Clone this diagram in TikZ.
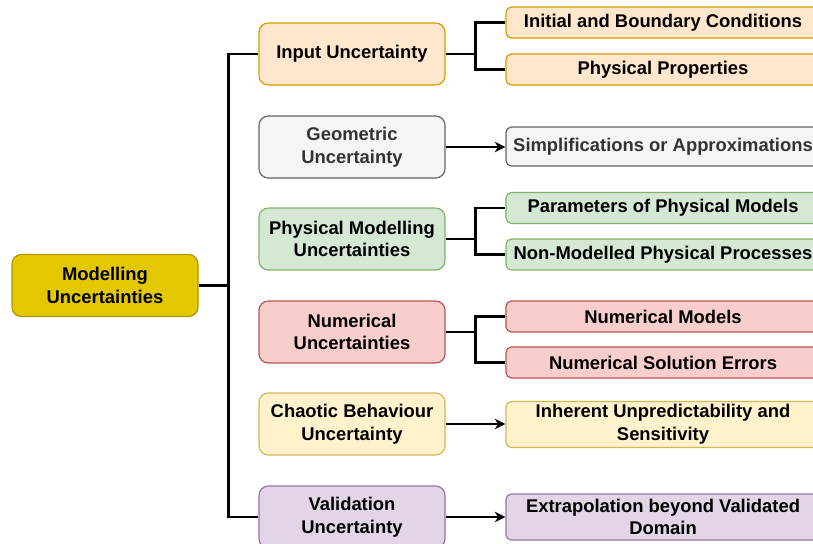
\documentclass[tikz,border=0pt]{standalone}
\usepackage{fontspec}
\setmainfont{Liberation Sans}
\usepackage{xcolor}
\usetikzlibrary{positioning,calc,arrows.meta}

\definecolor{rootfill}{HTML}{E3C800}\definecolor{rootline}{HTML}{B09500}
\definecolor{orfill}{HTML}{FFE6CC}\definecolor{orline}{HTML}{D79B00}
\definecolor{gyfill}{HTML}{F5F5F5}\definecolor{gyline}{HTML}{666666}\definecolor{gytext}{HTML}{333333}
\definecolor{grfill}{HTML}{D5E8D4}\definecolor{grline}{HTML}{82B366}
\definecolor{rdfill}{HTML}{F8CECC}\definecolor{rdline}{HTML}{B85450}
\definecolor{ylfill}{HTML}{FFF2CC}\definecolor{ylline}{HTML}{D6B656}
\definecolor{pufill}{HTML}{E1D5E7}\definecolor{puline}{HTML}{9673A6}

\begin{document}
\begin{tikzpicture}[x=0.75pt,y=-0.75pt]
	\tikzset{
		box/.style={
				draw, line width=0.9pt, rounded corners=7pt, align=center,
				font=\fontsize{13.8}{17}\selectfont\bfseries,
				minimum width=139.5pt, minimum height=46.5pt, inner sep=2pt,
			},
		leaf/.style={box, rounded corners=4pt, minimum width=235.5pt, minimum height=23.25pt},
		tree/.style={line width=1.6pt, black},
		arr/.style={line width=0.8pt, -{Stealth[length=8pt,width=8pt,inset=2.5pt]}},
	}
	\useasboundingbox (0,0) rectangle (813,543);
	%
	\node[box, fill=rootfill, draw=rootline] (root) at (105,285.5) {Modelling\\Uncertainties};
	%
	\node[box, fill=orfill, draw=orline] (in) at (352,54) {Input Uncertainty};
	\node[box, fill=gyfill, draw=gyline, text=gytext] (geo) at (352,147) {Geometric\\Uncertainty};
	\node[box, fill=grfill, draw=grline] (phy) at (352,239) {Physical Modelling\\Uncertainties};
	\node[box, fill=rdfill, draw=rdline] (num) at (352,332) {Numerical\\Uncertainties};
	\node[box, fill=ylfill, draw=ylline] (cha) at (352,424) {Chaotic Behaviour\\Uncertainty};
	\node[box, fill=pufill, draw=puline] (val) at (352,517) {Validation\\Uncertainty};
	%
	\node[leaf, fill=orfill, draw=orline] (ibc) at (663,22.5) {Initial and Boundary Conditions};
	\node[leaf, fill=orfill, draw=orline] (pp) at (663,69.5) {Physical Properties};
	\node[leaf, fill=gyfill, draw=gyline, text=gytext, minimum height=29.25pt] (sim) at (663,146.5) {Simplifications or Approximations};
	\node[leaf, fill=grfill, draw=grline] (par) at (663,208) {Parameters of Physical Models};
	\node[leaf, fill=grfill, draw=grline] (nmp) at (663,254.5) {Non-Modelled Physical Processes};
	\node[leaf, fill=rdfill, draw=rdline] (nm) at (663,316.5) {Numerical Models};
	\node[leaf, fill=rdfill, draw=rdline] (nse) at (663,362.5) {Numerical Solution Errors};
	\node[leaf, fill=ylfill, draw=ylline, minimum height=34.5pt] (inh) at (663,424.5) {Inherent Unpredictability and\\Sensitivity};
	\node[leaf, fill=pufill, draw=puline, minimum height=34.5pt] (ext) at (663,517) {Extrapolation beyond Validated\\Domain};
	%
	\draw[tree] (root.east) -- ($(root.east)!0.5!(root.east-|in.west)$) coordinate (trunk);
	\foreach \n in {in,val}
		\draw[tree] (trunk) |- (\n.west);
	%
	\draw[tree] (in.east) -| ($(in.east)!0.5!(ibc.west)$) |- (ibc.west);
	\draw[tree] (in.east) -| ($(in.east)!0.5!(pp.west)$) |- (pp.west);
	\draw[tree] (phy.east) -| ($(phy.east)!0.5!(par.west)$) |- (par.west);
	\draw[tree] (phy.east) -| ($(phy.east)!0.5!(nmp.west)$) |- (nmp.west);
	\draw[tree] (num.east) -| ($(num.east)!0.5!(nm.west)$) |- (nm.west);
	\draw[tree] (num.east) -| ($(num.east)!0.5!(nse.west)$) |- (nse.west);
	%
	\draw[arr] (geo.east) -- (geo.east-|sim.west);
	\draw[arr] (cha.east) -- (cha.east-|inh.west);
	\draw[arr] (val.east) -- (val.east-|ext.west);
\end{tikzpicture}
\end{document}
